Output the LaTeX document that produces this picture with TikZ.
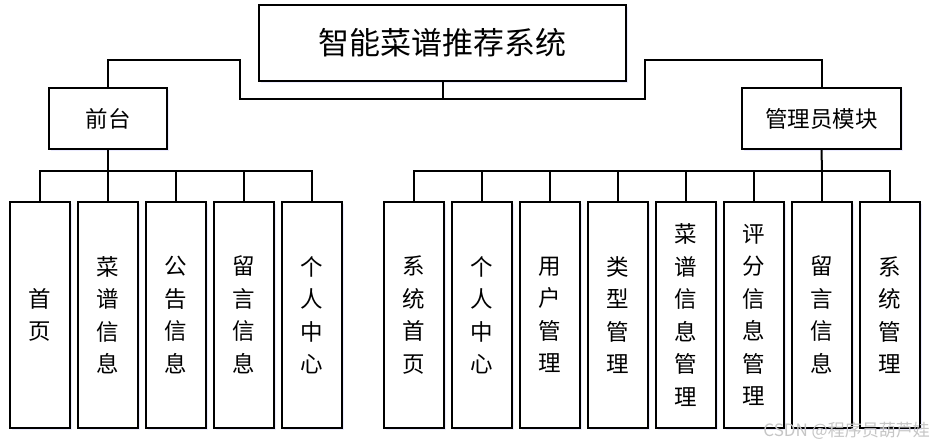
\documentclass[tikz,border=0pt]{standalone}
\usepackage{fontspec}
\newfontfamily\cjk{Noto Sans CJK SC}
\usetikzlibrary{shadows}
\tikzset{
  box/.style={draw=black, line width=2pt, fill=white, inner sep=0pt, align=center,
    drop shadow={shadow xshift=2pt, shadow yshift=-2pt, fill=blue!15, opacity=0.5}},
  titlebox/.style={box, minimum width=367pt, minimum height=76pt, font=\cjk\fontsize{31}{36}\selectfont},
  midbox/.style={box, minimum height=61pt, font=\cjk\fontsize{22.5}{26}\selectfont},
  leafbox/.style={box, minimum width=60pt, minimum height=226pt, text width=24pt, font=\cjk\fontsize{22.5}{32.5}\selectfont},
  conn/.style={line width=2pt, line cap=rect},
  wm/.style={font=\cjk\fontsize{17}{20}\selectfont, text=gray!45, inner sep=0pt}
}
\begin{document}
\begin{tikzpicture}[x=1pt,y=1pt]
\useasboundingbox (0,0) rectangle (932,-445);
\fill[white] (0,0) rectangle (932,-445);

\node[titlebox] (title) at (442.5,-43) {智能菜谱推荐系统};
\node[midbox, minimum width=118pt] (front) at (108,-118.5) {前台};
\node[midbox, minimum width=159pt] (admin) at (821.5,-118.5) {管理员模块};

% left leaves
\node[leafbox] (l1) at (40,-315)  {首\\页};
\node[leafbox] (l2) at (108,-315) {菜\\谱\\信\\息};
\node[leafbox] (l3) at (176,-315) {公\\告\\信\\息};
\node[leafbox] (l4) at (244,-315) {留\\言\\信\\息};
\node[leafbox] (l5) at (312,-315) {个\\人\\中\\心};

% right leaves
\node[leafbox] (r1) at (414,-315) {系\\统\\首\\页};
\node[leafbox] (r2) at (482,-315) {个\\人\\中\\心};
\node[leafbox] (r3) at (550,-315) {用\\户\\管\\理};
\node[leafbox] (r4) at (618,-315) {类\\型\\管\\理};
\node[leafbox] (r5) at (686,-315) {菜\\谱\\信\\息\\管\\理};
\node[leafbox] (r6) at (754,-315) {评\\分\\信\\息\\管\\理};
\node[leafbox] (r7) at (822,-315) {留\\言\\信\\息};
\node[leafbox] (r8) at (890,-315) {系\\统\\管\\理};

% top connectors
\coordinate (busL) at (240,-99);
\coordinate (busR) at (645,-99);
\coordinate (upL) at (240,-60);
\coordinate (upR) at (645,-60);
\draw[conn] (title.south) -- (title.south |- busL);
\draw[conn] (front.north) |- (upL) -- (busL) -- (busR) -- (upR) -| (admin.north);

% left bus
\coordinate (lb) at (108,-171);
\draw[conn] (front.south) -- (lb);
\foreach \n in {l1,l2,l3,l4,l5} \draw[conn] (lb) -| (\n.north);

% right bus
\coordinate (rb) at (822,-171);
\draw[conn] (admin.south) -- (rb);
\foreach \n in {r1,r2,r3,r4,r5,r6,r7,r8} \draw[conn] (rb) -| (\n.north);

\node[wm, anchor=east] (wmark) at (930,-431) {CSDN @程序员葫芦娃};
\end{tikzpicture}
\end{document}
